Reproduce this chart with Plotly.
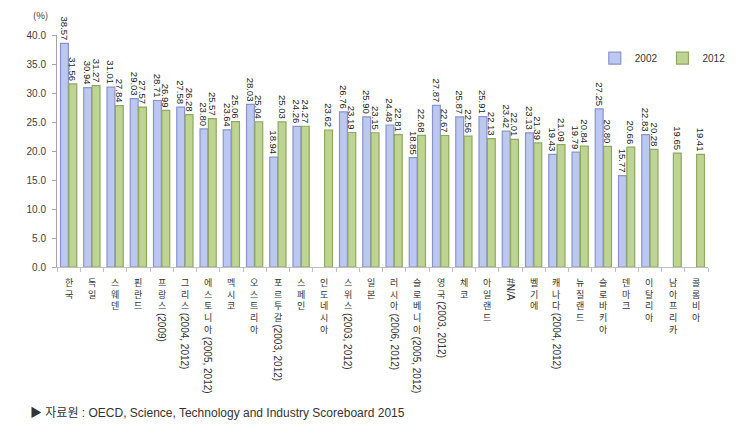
import plotly.graph_objects as go

categories = ["한국", "독일", "스웨덴", "핀란드", "프랑스(2009)", "그리스(2004, 2012)",
              "에스토니아(2005, 2012)", "멕시코", "오스트리아", "포르투갈(2003, 2012)",
              "스페인", "인도네시아", "스위스(2003, 2012)", "일본", "러시아(2006, 2012)",
              "슬로베니아(2005, 2012)", "영국(2003, 2012)", "체코", "아일랜드", "#N/A",
              "벨기에", "캐나다(2004, 2012)", "뉴질랜드", "슬로바키아", "덴마크",
              "이탈리아", "남아프리카", "콜롬비아"]

values_2002 = [38.57, 30.94, 31.01, 29.03, 28.71, 27.58, 23.80, 23.64, 28.03, 18.94,
               24.26, None, 26.76, 25.90, 24.48, 18.85, 27.87, 25.87, 25.91, 23.42,
               23.13, 19.43, 19.79, 27.25, 15.77, 22.83, None, None]

values_2012 = [31.56, 31.27, 27.84, 27.57, 26.99, 26.28, 25.57, 25.06, 25.04, 25.03,
               24.27, 23.62, 23.19, 23.15, 22.81, 22.68, 22.67, 22.56, 22.13, 22.01,
               21.39, 21.09, 20.84, 20.80, 20.66, 20.28, 19.65, 19.41]

series_names = ["2002", "2012"]
y_ticks = [0, 5, 10, 15, 20, 25, 30, 35, 40]
source_text = "▶ 자료원 : OECD, Science, Technology and Industry Scoreboard 2015"
unit_text = "(%)"

W, H = 743, 429
ML, MR, MT, MB = 57, 28, 35, 162
plot_h = H - MT - MB

fig = go.Figure()
fig.add_trace(go.Bar(
    x=categories, y=values_2002, name=series_names[0],
    marker=dict(color="#bcc8ef", line=dict(color="#8994cc", width=1.2)),
    texttemplate="%{y:.2f}", textposition="outside", textangle=90,
    constraintext="none", cliponaxis=False,
    textfont=dict(family="Liberation Sans, Arial", size=9.5, color="#222222"),
))
fig.add_trace(go.Bar(
    x=categories, y=values_2012, name=series_names[1],
    marker=dict(color="#bdd492", line=dict(color="#90a862", width=1.2)),
    texttemplate="%{y:.2f}", textposition="outside", textangle=90,
    constraintext="none", cliponaxis=False,
    textfont=dict(family="Liberation Sans, Arial", size=9.5, color="#222222"),
))

annotations = []
KOR_SIZE = 9
STEP = KOR_SIZE * 1.3
for cat in categories:
    # split Korean prefix (stacked upright) from the rest (rotated)
    i = 0
    while i < len(cat) and '\uac00' <= cat[i] <= '\ud7a3':
        i += 1
    kor, rest = cat[:i], cat[i:]
    if kor:
        annotations.append(dict(
            x=cat, xref="x", y=0, yref="paper", yanchor="top", xanchor="center",
            yshift=-8, text="<br>".join(kor), showarrow=False, borderpad=0,
            font=dict(family="Noto Sans CJK KR", size=KOR_SIZE, color="#333333"),
        ))
    if rest:
        annotations.append(dict(
            x=cat, xref="x", y=0, yref="paper", yanchor="top", xanchor="center",
            yshift=-(9 + len(kor) * STEP + 1), text=rest, textangle=90, showarrow=False,
            borderpad=0,
            font=dict(family="Liberation Sans, Arial", size=10, color="#333333"),
        ))

annotations.append(dict(
    x=(40 - ML) / (W - ML - MR), xref="paper", y=(H - MB - 15) / plot_h, yref="paper",
    xanchor="center", yanchor="middle", text=unit_text, showarrow=False,
    font=dict(family="Noto Sans CJK KR", size=9.5, color="#333333"),
))
annotations.append(dict(
    x=(28 - ML) / (W - ML - MR), xref="paper", y=((H - MB) - 412.5) / plot_h, yref="paper",
    xanchor="left", yanchor="middle", text=source_text, showarrow=False,
    font=dict(family="Liberation Sans, Noto Sans CJK KR", size=12, color="#333333"),
))

fig.update_layout(
    width=W, height=H,
    margin=dict(l=ML, r=MR, t=MT, b=MB, pad=0),
    paper_bgcolor="white", plot_bgcolor="white",
    barmode="group", bargap=0.28, bargroupgap=0.06,
    showlegend=True,
    legend=dict(orientation="h", x=1.035, xanchor="right", y=0.9, yanchor="middle",
                font=dict(family="Liberation Sans, Arial", size=10, color="#333333"),
                bgcolor="rgba(0,0,0,0)", itemwidth=30, tracegroupgap=0),
    annotations=annotations,
    font=dict(family="Liberation Sans, Noto Sans CJK KR", color="#333333"),
)
fig.update_xaxes(
    showticklabels=False, showline=True, linecolor="#bfbfbf", linewidth=1,
    ticks="outside", tickson="boundaries", ticklen=4, tickcolor="#bfbfbf",
    showgrid=False, zeroline=False, fixedrange=True,
)
fig.update_yaxes(
    range=[0, 40], tickvals=y_ticks, tickformat=".1f", showline=True, linecolor="#a6a6a6",
    linewidth=1, ticks="outside", ticklen=4, tickcolor="#a6a6a6", showgrid=False,
    zeroline=False, ticklabelstandoff=4,
    tickfont=dict(family="Liberation Sans, Arial", size=10, color="#404040"),
)

fig.write_html("out.html")
